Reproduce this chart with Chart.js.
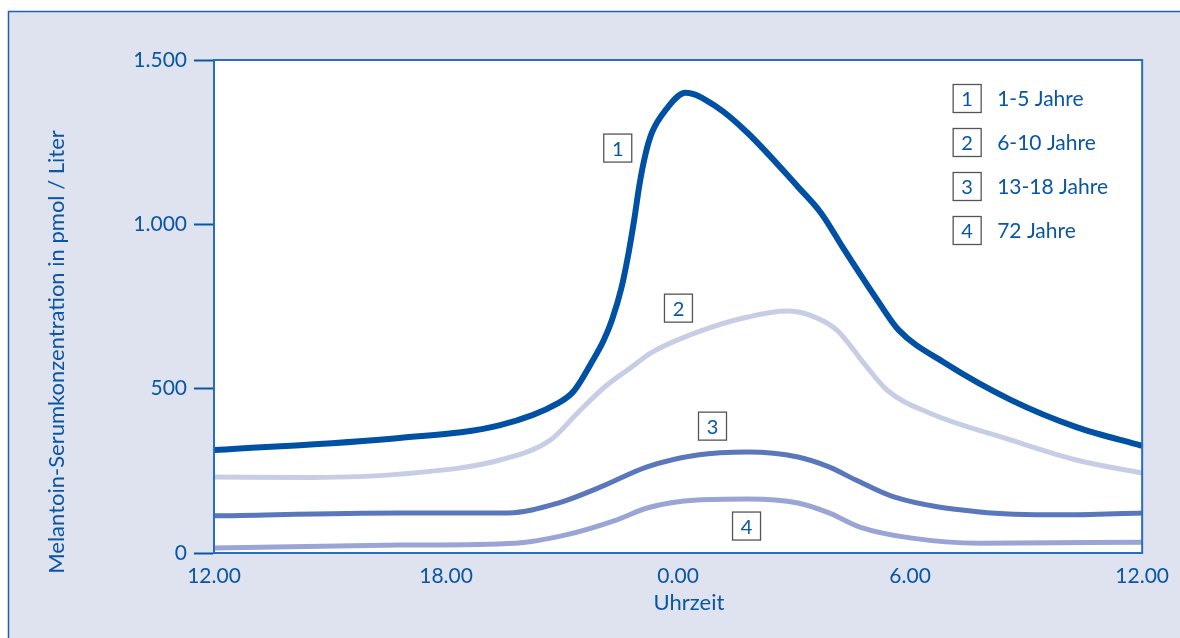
<!DOCTYPE html>
<html>
<head>
<meta charset="utf-8">
<script src="https://cdn.jsdelivr.net/npm/chart.js@4"></script>
<style>
  body { margin: 0; background: #dfe3f0; overflow: hidden; }
  canvas { display: block; }
</style>
</head>
<body>
<canvas id="melatonin" width="1180" height="638"></canvas>
<script>
// hours counted from 12.00 noon, values in pmol/l
const hours1 = [0, 4.8, 7.4, 8.9, 9.3, 9.8, 10.08, 10.29, 10.54, 10.72, 10.86, 11.0, 11.15, 11.32, 11.68, 12.19, 13.0, 13.8, 15.1, 15.7, 16.3, 17.2, 17.7, 18.9, 20.6, 22.3, 24];
const mel1 = [313, 350, 389, 456, 492, 587, 648, 709, 809, 913, 1010, 1120, 1210, 1278, 1348, 1400, 1357, 1278, 1114, 1034, 922, 761, 679, 578, 466, 383, 326];

const hours2 = [0, 2.5, 4.8, 7.4, 8.7, 9.4, 10.1, 10.8, 11.3, 12.5, 13.8, 14.8, 15.4, 16.1, 16.8, 17.4, 18.5, 20.6, 22.3, 24];
const mel2 = [231, 230, 240, 283, 344, 426, 505, 566, 609, 672, 718, 736, 724, 679, 578, 496, 426, 344, 283, 243];

const hours3 = [0, 4.8, 7.6, 8.9, 10.0, 11.2, 12.5, 13.8, 15.1, 15.9, 16.6, 17.6, 19.8, 21.9, 24];
const mel3 = [113, 122, 122, 152, 201, 262, 298, 307, 292, 262, 222, 170, 125, 116, 122];

const hours4 = [0, 4.8, 7.8, 9.1, 10.4, 11.2, 12.5, 13.8, 15.1, 15.9, 16.7, 18.0, 19.8, 24];
const mel4 = [15, 24, 30, 55, 100, 137, 161, 164, 152, 122, 79, 46, 30, 33];

const xTickLabels = ["12.00", "18.00", "0.00", "6.00", "12.00"];
const yTickLabels = ["0", "500", "1.000", "1.500"];

const groupNumbers = ["1", "2", "3", "4"];
const groupLabels = ["1-5 Jahre", "6-10 Jahre", "13-18 Jahre", "72 Jahre"];
// where the numbered boxes sit next to the curves
const markerHours = [10.44, 12.01, 12.89, 13.77];
const markerValues = [1232, 745, 386, 82];

const blue = "#0a56a4";
const fontFamily = "Lato, 'Open Sans', sans-serif";

function pts(xs, ys) {
  return xs.map((x, i) => ({ x: x, y: ys[i] }));
}

function numberBox(ctx, cx, cy, text) {
  ctx.fillStyle = "#fff";
  ctx.fillRect(cx - 14, cy - 14, 28, 28);
  ctx.strokeStyle = "#555";
  ctx.lineWidth = 1.3;
  ctx.strokeRect(cx - 14, cy - 14, 28, 28);
  ctx.fillStyle = blue;
  ctx.font = "20px " + fontFamily;
  ctx.textAlign = "center";
  ctx.textBaseline = "middle";
  ctx.fillText(text, cx, cy + 1);
}

const decor = {
  id: "decor",
  beforeDraw(chart) {
    const ctx = chart.ctx;
    const a = chart.chartArea;
    ctx.save();
    ctx.fillStyle = "#fff";
    ctx.fillRect(0, 0, chart.width, chart.height);
    ctx.fillStyle = "#dfe3f0";
    ctx.fillRect(8, 11, chart.width - 8, chart.height - 11);
    // frame: only top and left edges are inside the picture
    ctx.strokeStyle = "#1e5fae";
    ctx.lineWidth = 1.5;
    ctx.beginPath();
    ctx.moveTo(8.5, chart.height);
    ctx.lineTo(8.5, 11.5);
    ctx.lineTo(chart.width, 11.5);
    ctx.stroke();
    ctx.fillStyle = "#fff";
    ctx.fillRect(a.left, a.top, a.right - a.left, a.bottom - a.top);
    ctx.restore();
  },
  afterDraw(chart) {
    const ctx = chart.ctx;
    const a = chart.chartArea;
    const xs = chart.scales.x;
    const ys = chart.scales.y;
    ctx.save();
    ctx.strokeStyle = "#2a6cc0";
    ctx.lineWidth = 2;
    ctx.strokeRect(a.left, a.top, a.right - a.left, a.bottom - a.top);

    groupNumbers.forEach((n, i) => {
      numberBox(ctx, xs.getPixelForValue(markerHours[i]), ys.getPixelForValue(markerValues[i]), n);
    });

    groupLabels.forEach((lab, i) => {
      const cy = a.top + 38.5 + i * 44;
      numberBox(ctx, a.right - 175, cy, groupNumbers[i]);
      ctx.fillStyle = blue;
      ctx.font = "21px " + fontFamily;
      ctx.textAlign = "left";
      ctx.textBaseline = "middle";
      ctx.fillText(lab, a.right - 145, cy + 1);
    });

    ctx.fillStyle = blue;
    ctx.font = "22px " + fontFamily;
    ctx.textAlign = "center";
    ctx.textBaseline = "middle";
    ctx.fillText("Uhrzeit", 689, 603);
    ctx.translate(57, 352);
    ctx.rotate(-Math.PI / 2);
    ctx.fillText("Melantoin-Serumkonzentration in pmol / Liter", 0, 0);
    ctx.restore();
  }
};

const line = (data, color, width) => ({
  data: data,
  borderColor: color,
  borderWidth: width,
  pointRadius: 0,
  fill: false,
  cubicInterpolationMode: "monotone",
  borderCapStyle: "butt"
});

new Chart(document.getElementById("melatonin"), {
  type: "line",
  data: {
    datasets: [
      line(pts(hours4, mel4), "#9ba5d5", 5),
      line(pts(hours3, mel3), "#5a77bb", 5),
      line(pts(hours2, mel2), "#c8cde6", 5),
      line(pts(hours1, mel1), "#0051a3", 6)
    ]
  },
  options: {
    responsive: false,
    animation: false,
    layout: { padding: { top: 60, right: 35, left: 0, bottom: 0 } },
    plugins: {
      legend: { display: false },
      tooltip: { enabled: false }
    },
    scales: {
      x: {
        type: "linear",
        min: 0,
        max: 24,
        afterFit(scale) { scale.height = 85; },
        afterBuildTicks(scale) {
          scale.ticks = [0, 6, 12, 18, 24].map(v => ({ value: v }));
        },
        border: { color: "#2a6cc0", width: 2 },
        grid: { drawOnChartArea: false, drawTicks: false },
        ticks: {
          color: blue,
          font: { family: fontFamily, size: 21 },
          padding: 11,
          maxRotation: 0,
          callback: (v, i) => xTickLabels[i]
        }
      },
      y: {
        min: 0,
        max: 1500,
        afterFit(scale) { scale.width = 214; },
        afterBuildTicks(scale) {
          scale.ticks = [0, 500, 1000, 1500].map(v => ({ value: v }));
        },
        border: { color: "#2a6cc0", width: 2 },
        grid: {
          drawOnChartArea: false,
          drawTicks: true,
          tickLength: 20,
          tickColor: blue,
          tickWidth: 2
        },
        ticks: {
          color: blue,
          font: { family: fontFamily, size: 21 },
          padding: 7,
          callback: (v, i) => yTickLabels[i]
        }
      }
    }
  },
  plugins: [decor]
});
</script>
</body>
</html>
